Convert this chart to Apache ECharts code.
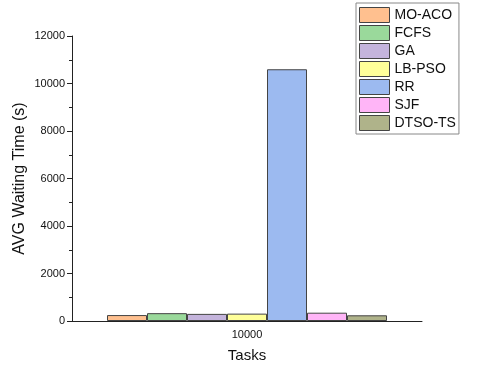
<!DOCTYPE html>
<html>
<head>
<meta charset="utf-8">
<script src="https://cdn.jsdelivr.net/npm/echarts@6/dist/echarts.min.js"></script>
<style>
    html, body { margin: 0; padding: 0; background: #fff; }
    #main { width: 480px; height: 371px; }
</style>
</head>
<body>
<div id="main"></div>
<script>
// 数据
const categories = ['10000'];
const seriesNames = ['MO-ACO', 'FCFS', 'GA', 'LB-PSO', 'RR', 'SJF', 'DTSO-TS'];
const waitValues = [250, 330, 300, 310, 10600, 350, 240];
const barColors = ['#FFC08F', '#9AD99B', '#C4B4DC', '#FFFF99', '#9CBAF0', '#FFB5F7', '#AFB38A'];
const yTicks = [0, 2000, 4000, 6000, 8000, 10000, 12000];

let chartDom = document.getElementById('main');
let myChart = echarts.init(chartDom);
let option;

option = {
    animation: false,
    textStyle: { fontFamily: 'Liberation Sans, Arial, sans-serif' },
    grid: {
        left: 72,
        right: 58,
        top: 36,
        bottom: 50
    },
    legend: {
        orient: 'vertical',
        left: 356,
        top: 3,
        padding: [4, 3, 3, 3],
        itemWidth: 30,
        itemHeight: 15,
        itemGap: 2,
        borderColor: '#888',
        borderWidth: 1,
        icon: 'rect',
        itemStyle: { borderWidth: 1, borderColor: '#444' },
        textStyle: { fontSize: 14, color: '#111', lineHeight: 16 },
        data: seriesNames
    },
    xAxis: {
        type: 'category',
        data: categories,
        name: 'Tasks',
        nameLocation: 'middle',
        nameGap: 27,
        nameTextStyle: { fontSize: 15, color: '#111' },
        axisLine: { lineStyle: { color: '#222', width: 1 } },
        axisTick: { alignWithLabel: true, length: 5, lineStyle: { color: '#222' } },
        axisLabel: { fontSize: 11, color: '#111', margin: 8 }
    },
    yAxis: {
        type: 'value',
        min: yTicks[0],
        max: yTicks[yTicks.length - 1],
        interval: 2000,
        name: 'AVG Waiting Time (s)',
        nameLocation: 'middle',
        nameGap: 44,
        nameMoveOverlap: false,
        nameTextStyle: { fontSize: 16, color: '#111' },
        axisLine: { show: true, lineStyle: { color: '#222', width: 1 } },
        axisTick: { show: true, length: 5, lineStyle: { color: '#222' } },
        minorTick: { show: true, splitNumber: 2, length: 3, lineStyle: { color: '#222' } },
        axisLabel: { fontSize: 11, color: '#111', margin: 7, formatter: v => String(v) },
        splitLine: { show: false }
    },
    series: seriesNames.map((name, i) => ({
        name: name,
        type: 'bar',
        barGap: 0,
        barCategoryGap: '20%',
        itemStyle: {
            color: barColors[i],
            borderColor: '#444',
            borderWidth: 1
        },
        data: [waitValues[i]]
    }))
};
option && myChart.setOption(option);
</script>
</body>
</html>
